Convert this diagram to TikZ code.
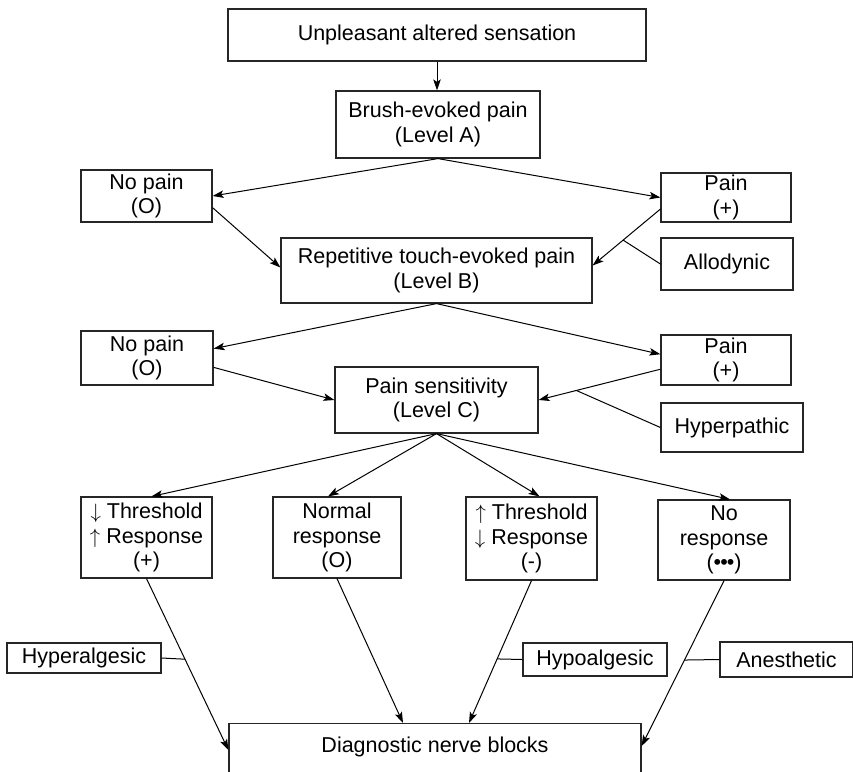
\documentclass[tikz,border=0pt]{standalone}
\usepackage{fontspec}
\setmainfont{Liberation Sans}
\usetikzlibrary{arrows.meta}

\begin{document}
\begin{tikzpicture}[
  x=1pt,y=-1pt,
  >={Stealth[length=11pt,width=7.5pt,inset=2.5pt]},
  font=\fontsize{21.5}{24.5}\selectfont,
  stepbox/.style={draw=black!85,line width=1.2pt,align=center,inner sep=0pt},
  flow/.style={->,line width=1pt},
  tagline/.style={line width=1pt}
]
\useasboundingbox (0,0) rectangle (853,771);
\clip (0,0) rectangle (853,771);

% Main column of tests.
\node[stepbox,minimum width=418pt,minimum height=52pt] (start) at (437,35)
  {Unpleasant altered sensation};
\node[stepbox,minimum width=204pt,minimum height=67pt] (levA) at (438,124.5)
  {Brush-evoked pain\\(Level A)};
\node[stepbox,minimum width=311pt,minimum height=65pt] (levB) at (436.5,270.5)
  {Repetitive touch-evoked pain\\(Level B)};
\node[stepbox,minimum width=203pt,minimum height=66pt] (levC) at (436.5,400)
  {Pain sensitivity\\(Level C)};
\node[stepbox,minimum width=412pt,anchor=north,inner ysep=8pt,text height=21pt,text depth=40pt]
  (blocks) at (435,723) {Diagnostic nerve blocks};

% Outcomes of levels A and B.
\node[stepbox,minimum width=131pt,minimum height=52pt] (nopainA) at (146.5,196) {No pain\\(O)};
\node[stepbox,minimum width=130pt,minimum height=49pt] (painA) at (726,197.5) {Pain\\(+)};
\node[stepbox,minimum width=132pt,minimum height=52pt] (allod) at (727,264) {Allodynic};
\node[stepbox,minimum width=132pt,minimum height=54pt] (nopainB) at (147,358) {No pain\\(O)};
\node[stepbox,minimum width=130pt,minimum height=50pt] (painB) at (726,360) {Pain\\(+)};
\node[stepbox,minimum width=142pt,minimum height=49pt] (hyperp) at (732,427.5) {Hyperpathic};

% Outcomes of level C.
\node[stepbox,minimum width=131pt,minimum height=81pt] (lowT) at (146.5,537.5)
  {$\downarrow$ Threshold\\$\uparrow$ Response\\(+)};
\node[stepbox,minimum width=128pt,minimum height=81pt] (normal) at (337,537.5)
  {Normal\\response\\(O)};
\node[stepbox,minimum width=131pt,minimum height=83pt] (highT) at (531.5,538.5)
  {$\uparrow$ Threshold\\$\downarrow$ Response\\(-)};
\node[stepbox,minimum width=132pt,minimum height=80pt] (noresp) at (724,540)
  {No\\response\\(\char"2022\kern-1pt\char"2022\kern-1pt\char"2022)};

% Side labels.
\node[stepbox,minimum width=154pt,minimum height=30pt] (hyperalg) at (84,658) {Hyperalgesic};
\node[stepbox,minimum width=144pt,minimum height=33pt] (hypoalg) at (595,659.5) {Hypoalgesic};
\node[stepbox,minimum width=133pt,minimum height=35pt] (anesth) at (786.5,659.5) {Anesthetic};

% Connectors between levels.
\draw[flow] (start.south) -- (start.south |- levA.north);
\draw[flow] (levA.south) -- (nopainA.east);
\draw[flow] (levA.south) -- (painA.west);
\draw[flow] (nopainA.-10) -- ([yshift=3pt]levB.west);
\draw[flow] (painA.190) -- coordinate[pos=0.55] (allodJoin) ([yshift=5pt]levB.east);
\draw[tagline] (allod.west) -- (allodJoin);

\draw[flow] (levB.south) -- (nopainB.8);
\draw[flow] (levB.south) -- (painB.175);
\draw[flow] (nopainB.-8) -- (levC.west);
\draw[flow] (painB.188) -- coordinate[pos=0.69] (hyperJoin) (levC.east);
\draw[tagline] (hyperp.west) -- (hyperJoin);

\draw[flow] (levC.south) -- ([xshift=5pt]lowT.north);
\draw[flow] (levC.south) -- ([xshift=-9pt]normal.north);
\draw[flow] (levC.south) -- ([xshift=8pt]highT.north);
\draw[flow] (levC.south) -- ([xshift=6pt]noresp.north);

% Into the nerve blocks.
\draw[flow] (lowT.south) -- coordinate[pos=0.47] (hyperalgJoin) ([yshift=12pt]blocks.west);
\draw[flow] (normal.south) -- ([xshift=-32pt]blocks.north);
\draw[flow] (highT.south) -- coordinate[pos=0.55] (hypoalgJoin) ([xshift=34pt]blocks.north);
\draw[flow] (noresp.south) -- coordinate[pos=0.48] (anesthJoin) ([yshift=16pt]blocks.east);
\draw[tagline] (hyperalg.east) -- (hyperalgJoin);
\draw[tagline] (hypoalg.west) -- (hypoalgJoin);
\draw[tagline] (anesth.west) -- (anesthJoin);
\end{tikzpicture}
\end{document}
